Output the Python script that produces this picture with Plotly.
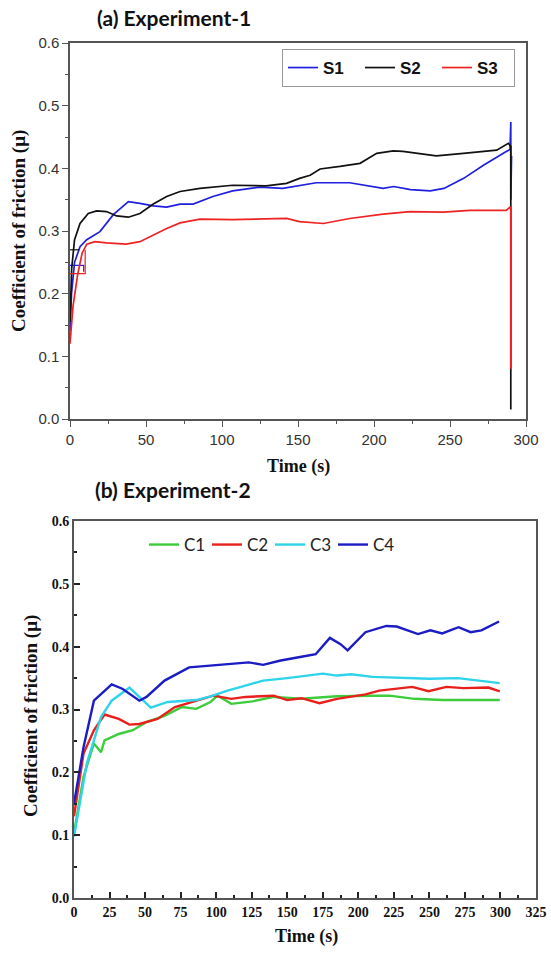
import plotly.graph_objects as go

# ---------------- Experiment-1 data ----------------
s1_t = [0, 1, 3, 6.6, 11, 19.7, 28.5, 38.4, 46, 54.8, 63.6, 72.4, 81, 94, 107, 125, 140, 151, 162, 184, 206, 213, 224, 237, 246, 259, 272, 287, 289.5, 290, 290, 290.5]
s1_mu = [0.14, 0.2, 0.25, 0.275, 0.286, 0.299, 0.326, 0.347, 0.344, 0.340, 0.338, 0.343, 0.343, 0.355, 0.364, 0.370, 0.368, 0.372, 0.377, 0.377, 0.368, 0.371, 0.366, 0.364, 0.368, 0.384, 0.405, 0.427, 0.43, 0.474, 0.35, 0.42]
s2_t = [0, 1.1, 3, 6.6, 12, 17.5, 24, 30.7, 38.4, 46, 54.8, 63.6, 72.4, 85.5, 107, 129, 142.5, 151, 158, 164.5, 177.6, 190.8, 201.8, 212.7, 219, 241, 258.8, 280.7, 288.4, 290, 290]
s2_mu = [0.155, 0.24, 0.286, 0.312, 0.328, 0.332, 0.331, 0.324, 0.322, 0.328, 0.343, 0.355, 0.363, 0.368, 0.373, 0.372, 0.376, 0.384, 0.389, 0.399, 0.403, 0.408, 0.424, 0.428, 0.427, 0.420, 0.424, 0.429, 0.44, 0.435, 0.015]
s3_t = [0, 2, 5, 8, 11, 16.4, 24, 37, 46, 54.8, 63.6, 72.4, 85.5, 107, 129, 142.5, 151, 166.7, 184, 206, 223.7, 245.6, 263, 287, 289.5, 290, 290]
s3_mu = [0.12, 0.18, 0.23, 0.265, 0.279, 0.283, 0.281, 0.279, 0.283, 0.294, 0.304, 0.313, 0.319, 0.318, 0.319, 0.320, 0.315, 0.312, 0.320, 0.327, 0.331, 0.330, 0.333, 0.333, 0.338, 0.335, 0.08]
# start-up artefact segments of the recording
s1_art_t = [0, 9, 9]
s1_art_mu = [0.245, 0.245, 0.235]
s2_art_t = [0, 6]
s2_art_mu = [0.27, 0.27]
s3_art_t = [0, 10, 10]
s3_art_mu = [0.232, 0.232, 0.27]

# ---------------- Experiment-2 data ----------------
c1_t = [0, 6.7, 14, 19, 21.5, 31.5, 41.4, 51, 63.7, 76, 86, 96, 101, 110.7, 125.6, 140.5, 160, 185, 210, 222, 239.5, 259, 281.6, 299.5]
c1_mu = [0.103, 0.193, 0.246, 0.232, 0.251, 0.261, 0.267, 0.280, 0.290, 0.304, 0.301, 0.312, 0.322, 0.309, 0.313, 0.320, 0.317, 0.321, 0.322, 0.322, 0.317, 0.315, 0.315, 0.315]
c2_t = [0, 6.7, 14, 21.5, 31.5, 39, 46, 58.7, 71, 83.5, 98, 110.7, 120.6, 140.5, 150, 160, 172.7, 185, 205, 214.8, 227, 238, 249.4, 262, 274, 284, 291.5, 299.5]
c2_mu = [0.13, 0.23, 0.267, 0.292, 0.285, 0.276, 0.277, 0.285, 0.304, 0.312, 0.322, 0.317, 0.320, 0.322, 0.315, 0.318, 0.310, 0.317, 0.324, 0.330, 0.333, 0.336, 0.329, 0.336, 0.334, 0.334, 0.335, 0.329]
c3_t = [0, 9, 19, 26.5, 39, 46, 54, 66, 86, 96, 108, 120.6, 133, 150, 165, 175, 185, 195, 210, 230, 250, 270, 285, 299.5]
c3_mu = [0.098, 0.214, 0.288, 0.314, 0.335, 0.320, 0.303, 0.312, 0.315, 0.321, 0.330, 0.338, 0.346, 0.350, 0.354, 0.357, 0.354, 0.356, 0.352, 0.350, 0.349, 0.350, 0.346, 0.342]
c4_t = [0, 6.7, 14, 26.5, 34, 46, 51, 63.7, 81, 95.9, 108, 123, 133, 145.4, 160, 170, 180, 187.5, 192.5, 197, 205, 219.7, 227, 242, 250.7, 259, 270.5, 279, 286.6, 299]
c4_mu = [0.15, 0.24, 0.314, 0.340, 0.333, 0.314, 0.320, 0.346, 0.367, 0.370, 0.373, 0.375, 0.371, 0.378, 0.384, 0.388, 0.414, 0.404, 0.394, 0.404, 0.423, 0.433, 0.432, 0.420, 0.426, 0.421, 0.431, 0.423, 0.426, 0.440]

top_names = ["S1", "S2", "S3"]
top_colors = ["#1f1fe0", "#111111", "#ee2222"]
bot_names = ["C1", "C2", "C3", "C4"]
bot_colors = ["#3ccc3c", "#e8201c", "#2fd3ea", "#1c1cc4"]

W, H = 551, 955
fig = go.Figure()

top_series = [(s1_t, s1_mu, s1_art_t, s1_art_mu), (s2_t, s2_mu, s2_art_t, s2_art_mu), (s3_t, s3_mu, s3_art_t, s3_art_mu)]
for name, col, (t, mu, at, amu) in zip(top_names, top_colors, top_series):
    fig.add_trace(go.Scatter(x=t, y=mu, mode="lines", name=name, line=dict(color=col, width=1.7),
                             xaxis="x", yaxis="y", legend="legend"))
    fig.add_trace(go.Scatter(x=at, y=amu, mode="lines", showlegend=False, line=dict(color=col, width=1.2),
                             xaxis="x", yaxis="y"))

for name, col, t, mu in zip(bot_names, bot_colors, [c1_t, c2_t, c3_t, c4_t], [c1_mu, c2_mu, c3_mu, c4_mu]):
    fig.add_trace(go.Scatter(x=t, y=mu, mode="lines", name=name, line=dict(color=col, width=2.4),
                             xaxis="x2", yaxis="y2", legend="legend2"))

axcol = "#555555"
top_tick = dict(family="Liberation Sans, Arial", size=15, color="#333333")
bot_tick = dict(family="Liberation Serif, Times New Roman", size=14, color="#111111", weight="bold")

fig.update_layout(
    width=W, height=H, margin=dict(l=0, r=0, t=0, b=0, autoexpand=False),
    paper_bgcolor="white", plot_bgcolor="white",
    xaxis=dict(domain=[70 / W, 526 / W], anchor="y", range=[0, 300], dtick=50, tick0=0, automargin=False,
               showgrid=False, zeroline=False, showline=True, linecolor=axcol, linewidth=1.5, mirror=True,
               ticks="outside", ticklen=6, tickwidth=1.2, tickcolor=axcol, tickfont=top_tick,
               minor=dict(dtick=25, ticks="outside", ticklen=3, tickcolor=axcol)),
    yaxis=dict(domain=[1 - 419 / H, 1 - 43 / H], anchor="x", range=[0, 0.6], dtick=0.1, tick0=0, tickformat=".1f",
               automargin=False,
               showgrid=False, zeroline=False, showline=True, linecolor=axcol, linewidth=1.5, mirror=True,
               ticks="outside", ticklen=6, tickwidth=1.2, tickcolor=axcol, tickfont=top_tick,
               minor=dict(dtick=0.05, ticks="outside", ticklen=3, tickcolor=axcol)),
    xaxis2=dict(domain=[74 / W, 536 / W], anchor="y2", range=[0, 325], dtick=25, tick0=0, automargin=False,
                showgrid=False, zeroline=False, showline=True, linecolor=axcol, linewidth=2, mirror=True,
                ticks="inside", ticklen=6, tickwidth=1.5, tickcolor="#222222", tickfont=bot_tick,
                minor=dict(dtick=12.5, ticks="inside", ticklen=3, tickcolor="#222222")),
    yaxis2=dict(domain=[1 - 898 / H, 1 - 521 / H], anchor="x2", range=[0, 0.6], dtick=0.1, tick0=0, tickformat=".1f",
                automargin=False,
                showgrid=False, zeroline=False, showline=True, linecolor=axcol, linewidth=2, mirror=True,
                ticks="inside", ticklen=6, tickwidth=1.5, tickcolor="#222222", tickfont=bot_tick,
                minor=dict(dtick=0.05, ticks="inside", ticklen=3, tickcolor="#222222")),
    legend=dict(orientation="h", x=282 / W, xanchor="left", y=1 - 49 / H, yanchor="top",
                bordercolor="#999999", borderwidth=1, bgcolor="white", entrywidth=32,
                font=dict(family="Liberation Sans, Arial", size=17, color="#111111", weight="bold")),
    legend2=dict(orientation="h", x=144 / W, xanchor="left", y=1 - 545 / H, yanchor="middle",
                 borderwidth=0, bgcolor="rgba(0,0,0,0)", entrywidth=18,
                 font=dict(family="Lato, Open Sans", size=17, color="#222222")),
    showlegend=True,
)

title_font = dict(family="Lato, Open Sans", size=21, color="#111111", weight="bold")
ylab_font = dict(family="Liberation Serif, Times New Roman", size=19, color="#111111", weight="bold")
xlab_font = dict(family="Liberation Serif, Times New Roman", size=18, color="#111111", weight="bold")

annotations = [
    dict(text="(a) Experiment-1", x=95 / W, y=1 - 17 / H, xanchor="left", yanchor="middle", font=title_font),
    dict(text="(b) Experiment-2", x=93 / W, y=1 - 489 / H, xanchor="left", yanchor="middle", font=title_font),
    dict(text="Coefficient of friction (\u03bc)", x=19 / W, y=1 - 231 / H, textangle=-90,
         xanchor="center", yanchor="middle", font=ylab_font),
    dict(text="Coefficient of friction (\u03bc)", x=31 / W, y=1 - 716 / H, textangle=-90,
         xanchor="center", yanchor="middle", font=ylab_font),
    dict(text="Time (s)", x=298 / W, y=1 - 466 / H, xanchor="center", yanchor="middle", font=xlab_font),
    dict(text="Time (s)", x=306 / W, y=1 - 936 / H, xanchor="center", yanchor="middle", font=xlab_font),
]
for a in annotations:
    a.update(xref="paper", yref="paper", showarrow=False)
fig.update_layout(annotations=annotations)

fig.write_html("out.html", config={"displayModeBar": False},
               post_script="document.body.style.margin='0';document.body.style.overflow='hidden';")
